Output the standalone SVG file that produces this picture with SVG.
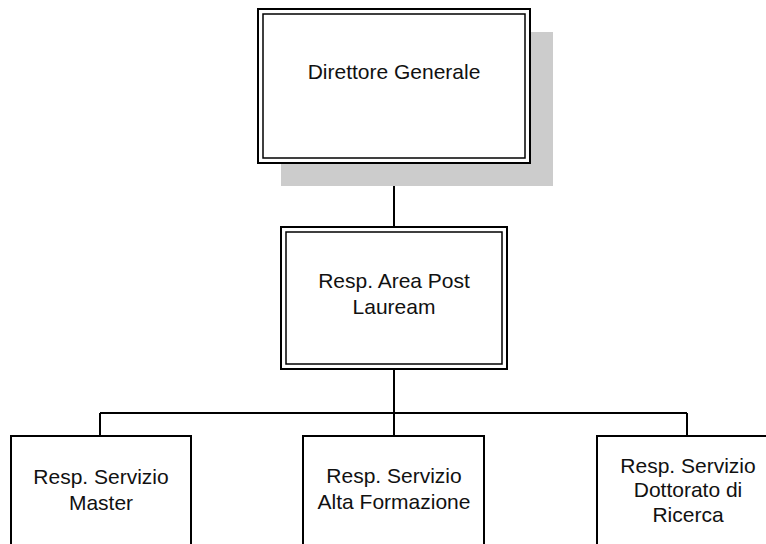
<svg xmlns="http://www.w3.org/2000/svg" width="766" height="544" viewBox="0 0 766 544">
<style>
.box{fill:#fff;stroke:#000;stroke-width:2}
.inner{fill:none;stroke:#000;stroke-width:1.5}
.line{fill:none;stroke:#000;stroke-width:2}
text{font-family:"Liberation Sans",Arial,sans-serif;font-size:21px;fill:#111;text-anchor:middle}
</style>
<rect width="766" height="544" fill="#fff"/>
<g id="connectors">
<path class="line" d="M394 163V227M394 369V413M100 413H687M100 413V436M394 413V436M687 413V436"/>
</g>
<g id="direttore">
<rect x="281" y="32" width="272" height="154" fill="#cccccc"/>
<rect class="box" x="258" y="9" width="272" height="154"/>
<rect class="inner" x="263" y="14" width="262" height="144"/>
<text x="394" y="79">Direttore Generale</text>
</g>
<g id="area">
<rect class="box" x="281" y="227" width="226" height="142"/>
<rect class="inner" x="286" y="232" width="216" height="132"/>
<text x="394" y="288">Resp. Area Post</text>
<text x="394" y="314">Lauream</text>
</g>
<g id="master">
<rect class="box" x="11" y="436" width="180" height="130"/>
<text x="101" y="484">Resp. Servizio</text>
<text x="101" y="510">Master</text>
</g>
<g id="alta">
<rect class="box" x="303" y="436" width="181" height="130"/>
<text x="394" y="483">Resp. Servizio</text>
<text x="394" y="509">Alta Formazione</text>
</g>
<g id="dottorato">
<rect class="box" x="597" y="436" width="180" height="130"/>
<text x="688" y="473">Resp. Servizio</text>
<text x="688" y="497">Dottorato di</text>
<text x="688" y="522">Ricerca</text>
</g>
</svg>
